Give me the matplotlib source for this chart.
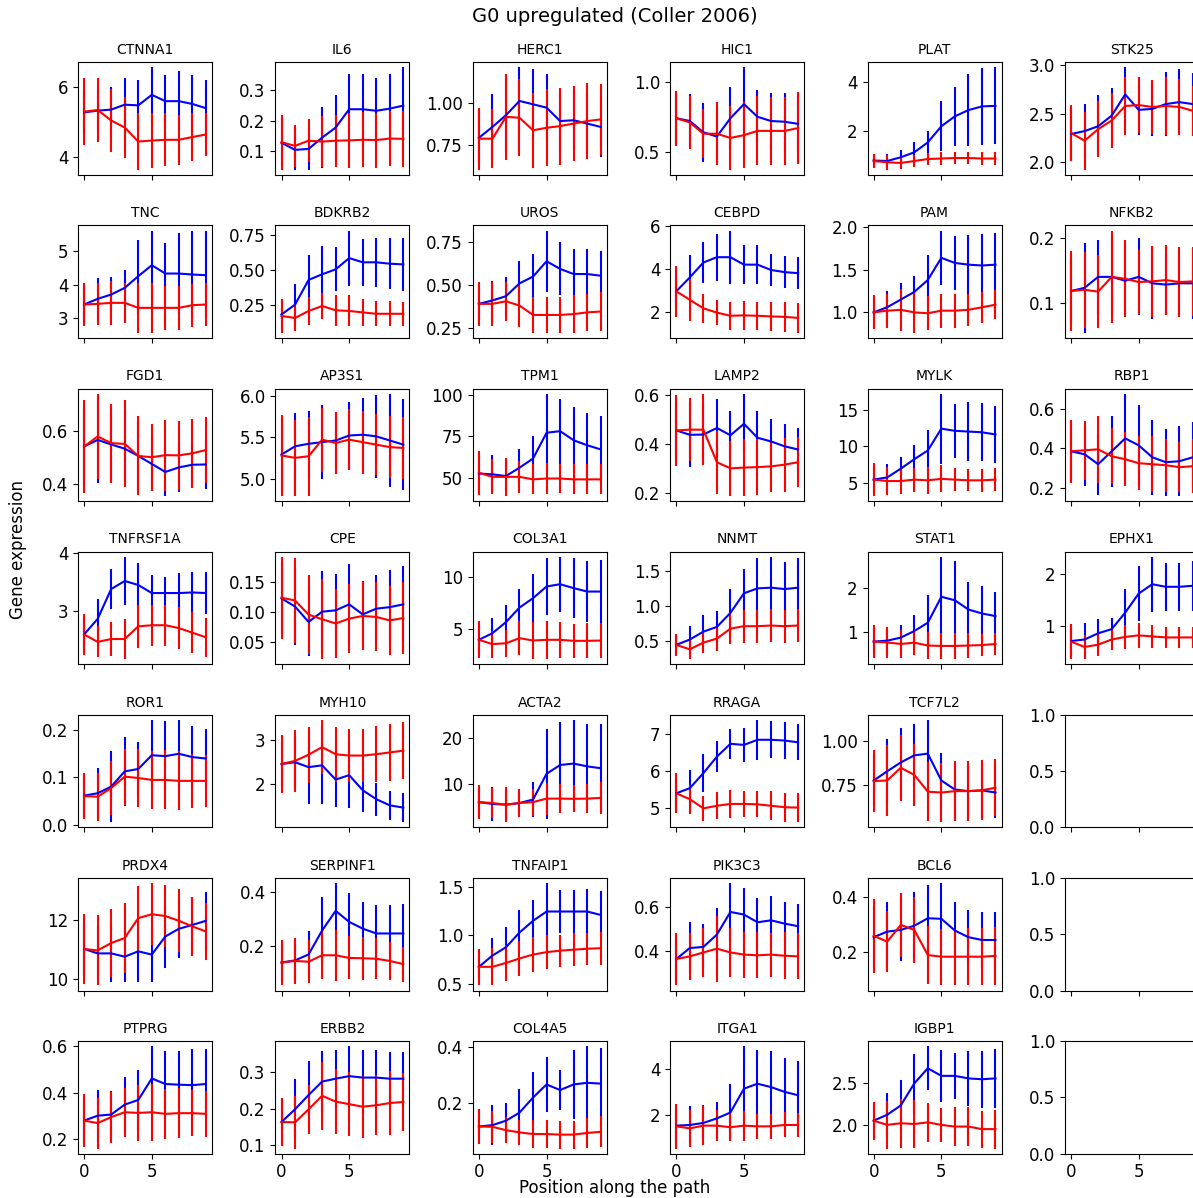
import numpy as np
import matplotlib
matplotlib.use('Agg')
import matplotlib.pyplot as plt

# Mean expression along the path (x = 0..9), blue and red groups, with std error bars
positions = list(range(10))

genes = ['CTNNA1', 'IL6', 'HERC1', 'HIC1', 'PLAT', 'STK25',
         'TNC', 'BDKRB2', 'UROS', 'CEBPD', 'PAM', 'NFKB2',
         'FGD1', 'AP3S1', 'TPM1', 'LAMP2', 'MYLK', 'RBP1',
         'TNFRSF1A', 'CPE', 'COL3A1', 'NNMT', 'STAT1', 'EPHX1',
         'ROR1', 'MYH10', 'ACTA2', 'RRAGA', 'TCF7L2',
         'PRDX4', 'SERPINF1', 'TNFAIP1', 'PIK3C3', 'BCL6',
         'PTPRG', 'ERBB2', 'COL4A5', 'ITGA1', 'IGBP1']

blue_mean = [
    [5.28, 5.33, 5.36, 5.5, 5.48, 5.78, 5.6, 5.6, 5.52, 5.4],
    [0.128, 0.105, 0.108, 0.145, 0.178, 0.238, 0.238, 0.233, 0.24, 0.25],
    [0.79, 0.855, 0.925, 1.01, 0.99, 0.97, 0.89, 0.895, 0.875, 0.855],
    [0.74, 0.72, 0.64, 0.61, 0.74, 0.84, 0.75, 0.72, 0.715, 0.7],
    [0.82, 0.8, 0.95, 1.15, 1.55, 2.2, 2.6, 2.85, 3.0, 3.02],
    [2.29, 2.32, 2.37, 2.48, 2.7, 2.54, 2.55, 2.6, 2.62, 2.6],
    [3.4, 3.57, 3.7, 3.9, 4.25, 4.58, 4.33, 4.33, 4.3, 4.28],
    [0.185, 0.255, 0.43, 0.47, 0.505, 0.585, 0.555, 0.555, 0.545, 0.54],
    [0.39, 0.41, 0.435, 0.51, 0.55, 0.64, 0.595, 0.565, 0.565, 0.555],
    [2.95, 3.6, 4.3, 4.55, 4.55, 4.2, 4.2, 3.95, 3.85, 3.8],
    [1.0, 1.06, 1.15, 1.24, 1.38, 1.64, 1.58, 1.56, 1.55, 1.56],
    [0.118, 0.123, 0.14, 0.14, 0.134, 0.14, 0.13, 0.128, 0.13, 0.13],
    [0.54, 0.565, 0.548, 0.532, 0.505, 0.475, 0.445, 0.462, 0.472, 0.473],
    [5.29, 5.39, 5.42, 5.44, 5.46, 5.52, 5.53, 5.51, 5.46, 5.41],
    [52.5, 52, 51, 56, 61.5, 77, 78, 72.5, 69.5, 67],
    [0.455, 0.437, 0.438, 0.465, 0.435, 0.482, 0.425, 0.41, 0.39, 0.377],
    [5.4, 5.7, 6.9, 8.2, 9.4, 12.4, 12.1, 12.0, 11.9, 11.6],
    [0.385, 0.37, 0.32, 0.385, 0.45, 0.415, 0.355, 0.33, 0.335, 0.355],
    [2.59, 2.86, 3.38, 3.52, 3.45, 3.31, 3.31, 3.31, 3.32, 3.31],
    [0.1225, 0.109, 0.0835, 0.1005, 0.1027, 0.1126, 0.096, 0.1055, 0.108, 0.1126],
    [3.94, 4.58, 5.65, 7.06, 7.97, 9.1, 9.32, 8.94, 8.61, 8.61],
    [0.443, 0.52, 0.632, 0.7, 0.9, 1.18, 1.25, 1.26, 1.24, 1.26],
    [0.79, 0.81, 0.88, 1.03, 1.22, 1.81, 1.73, 1.52, 1.43, 1.37],
    [0.7, 0.73, 0.85, 0.93, 1.25, 1.62, 1.8, 1.75, 1.75, 1.77],
    [0.061, 0.066, 0.08, 0.112, 0.117, 0.146, 0.144, 0.149, 0.142, 0.139],
    [2.46, 2.5, 2.39, 2.43, 2.11, 2.21, 1.87, 1.67, 1.53, 1.48],
    [6.2, 5.8, 5.65, 6.0, 6.75, 12.3, 14.2, 14.5, 13.9, 13.5],
    [5.39, 5.53, 5.94, 6.39, 6.74, 6.71, 6.85, 6.85, 6.83, 6.78],
    [0.778, 0.83, 0.88, 0.92, 0.93, 0.778, 0.727, 0.718, 0.722, 0.71],
    [11.02, 10.87, 10.87, 10.76, 10.94, 10.83, 11.44, 11.7, 11.83, 11.97],
    [0.139, 0.147, 0.169, 0.258, 0.331, 0.29, 0.265, 0.247, 0.247, 0.247],
    [0.68, 0.795, 0.88, 1.03, 1.15, 1.245, 1.245, 1.245, 1.245, 1.21],
    [0.365, 0.415, 0.42, 0.476, 0.579, 0.567, 0.532, 0.541, 0.526, 0.514],
    [0.254, 0.274, 0.28, 0.295, 0.322, 0.32, 0.278, 0.254, 0.244, 0.244],
    [0.279, 0.3, 0.305, 0.348, 0.368, 0.461, 0.437, 0.434, 0.432, 0.437],
    [0.163, 0.198, 0.237, 0.274, 0.282, 0.289, 0.285, 0.285, 0.282, 0.282],
    [0.114, 0.119, 0.135, 0.164, 0.218, 0.265, 0.245, 0.265, 0.271, 0.268],
    [1.52, 1.55, 1.64, 1.84, 2.1, 3.15, 3.37, 3.22, 3.01, 2.86],
    [2.05, 2.12, 2.23, 2.49, 2.67, 2.58, 2.58, 2.55, 2.54, 2.55],
]

blue_err = [
    [0.6, 0.6, 0.65, 0.75, 0.72, 0.78, 0.75, 0.85, 0.83, 0.8],
    [0.08, 0.065, 0.068, 0.1, 0.107, 0.117, 0.117, 0.107, 0.115, 0.125],
    [0.17, 0.195, 0.22, 0.2, 0.21, 0.2, 0.18, 0.18, 0.18, 0.18],
    [0.18, 0.19, 0.21, 0.2, 0.22, 0.26, 0.19, 0.2, 0.205, 0.2],
    [0.25, 0.3, 0.3, 0.4, 0.45, 1.0, 1.2, 1.45, 1.55, 1.55],
    [0.28, 0.28, 0.32, 0.29, 0.28, 0.26, 0.28, 0.33, 0.34, 0.32],
    [0.5, 0.63, 0.52, 0.55, 1.1, 1.04, 0.92, 1.22, 1.3, 1.32],
    [0.1, 0.145, 0.18, 0.2, 0.155, 0.195, 0.165, 0.175, 0.18, 0.185],
    [0.1, 0.115, 0.115, 0.13, 0.13, 0.18, 0.155, 0.145, 0.145, 0.145],
    [0.8, 1.05, 0.95, 1.1, 1.25, 0.9, 0.9, 0.75, 0.75, 0.75],
    [0.18, 0.19, 0.19, 0.19, 0.29, 0.32, 0.32, 0.35, 0.37, 0.37],
    [0.05, 0.07, 0.058, 0.06, 0.055, 0.06, 0.055, 0.048, 0.05, 0.055],
    [0.15, 0.16, 0.14, 0.14, 0.13, 0.1, 0.09, 0.092, 0.085, 0.093],
    [0.45, 0.4, 0.4, 0.445, 0.35, 0.4, 0.44, 0.505, 0.565, 0.545],
    [10, 11.5, 9, 11, 13.5, 23.5, 19.5, 20, 19.5, 20],
    [0.12, 0.132, 0.12, 0.12, 0.1, 0.123, 0.11, 0.09, 0.09, 0.088],
    [1.8, 1.9, 1.6, 2.0, 2.8, 4.8, 3.7, 4.0, 4.0, 3.9],
    [0.15, 0.16, 0.155, 0.18, 0.225, 0.205, 0.19, 0.168, 0.175, 0.18],
    [0.3, 0.35, 0.34, 0.42, 0.39, 0.31, 0.28, 0.35, 0.36, 0.36],
    [0.06, 0.063, 0.057, 0.068, 0.06, 0.067, 0.055, 0.056, 0.061, 0.063],
    [1.4, 1.45, 1.67, 1.78, 2.35, 2.8, 2.65, 2.9, 2.95, 3.05],
    [0.15, 0.19, 0.24, 0.23, 0.34, 0.34, 0.43, 0.44, 0.39, 0.42],
    [0.3, 0.3, 0.29, 0.36, 0.64, 0.91, 0.89, 0.63, 0.62, 0.55],
    [0.3, 0.31, 0.27, 0.22, 0.45, 0.53, 0.53, 0.46, 0.46, 0.48],
    [0.045, 0.054, 0.075, 0.073, 0.056, 0.074, 0.073, 0.07, 0.065, 0.063],
    [0.5, 0.6, 0.83, 0.86, 0.61, 0.73, 0.5, 0.37, 0.33, 0.33],
    [3.0, 3.6, 3.0, 3.0, 3.75, 9.75, 9.2, 9.4, 9.1, 9.5],
    [0.4, 0.5, 0.52, 0.43, 0.41, 0.47, 0.54, 0.5, 0.5, 0.49],
    [0.15, 0.18, 0.195, 0.18, 0.19, 0.155, 0.15, 0.15, 0.156, 0.145],
    [0.9, 0.9, 0.96, 0.85, 1.03, 0.92, 1.05, 0.98, 0.95, 0.97],
    [0.07, 0.075, 0.089, 0.126, 0.103, 0.109, 0.1, 0.104, 0.106, 0.11],
    [0.15, 0.18, 0.21, 0.23, 0.21, 0.29, 0.22, 0.22, 0.235, 0.24],
    [0.1, 0.12, 0.105, 0.12, 0.131, 0.121, 0.11, 0.11, 0.1, 0.1],
    [0.11, 0.108, 0.11, 0.12, 0.12, 0.128, 0.104, 0.096, 0.099, 0.099],
    [0.1, 0.11, 0.1, 0.118, 0.131, 0.139, 0.144, 0.147, 0.156, 0.153],
    [0.06, 0.084, 0.093, 0.083, 0.08, 0.082, 0.077, 0.077, 0.074, 0.074],
    [0.06, 0.072, 0.065, 0.083, 0.092, 0.1, 0.071, 0.125, 0.131, 0.128],
    [0.8, 0.84, 0.8, 0.73, 1.24, 1.87, 1.5, 1.58, 1.5, 1.53],
    [0.2, 0.26, 0.3, 0.35, 0.26, 0.31, 0.27, 0.33, 0.34, 0.35],
]

red_mean = [
    [5.3, 5.35, 5.05, 4.85, 4.45, 4.48, 4.5, 4.5, 4.58, 4.65],
    [0.13, 0.118, 0.135, 0.132, 0.135, 0.136, 0.138, 0.137, 0.142, 0.141],
    [0.785, 0.785, 0.915, 0.91, 0.835, 0.85, 0.86, 0.875, 0.89, 0.9],
    [0.74, 0.71, 0.63, 0.63, 0.6, 0.62, 0.65, 0.65, 0.65, 0.67],
    [0.8, 0.75, 0.72, 0.8, 0.88, 0.9, 0.92, 0.92, 0.9, 0.9],
    [2.3, 2.22, 2.34, 2.43, 2.58, 2.59, 2.57, 2.58, 2.57, 2.53],
    [3.4, 3.42, 3.45, 3.45, 3.3, 3.3, 3.3, 3.3, 3.38, 3.4],
    [0.175, 0.16, 0.21, 0.245, 0.215, 0.21, 0.2, 0.19, 0.19, 0.19],
    [0.39, 0.39, 0.405, 0.38, 0.325, 0.325, 0.325, 0.33, 0.34, 0.345],
    [2.95, 2.55, 2.15, 1.95, 1.8, 1.82, 1.8, 1.77, 1.75, 1.7],
    [1.0, 1.02, 1.03, 1.0, 0.99, 1.02, 1.02, 1.03, 1.06, 1.09],
    [0.118, 0.12, 0.117, 0.14, 0.137, 0.132, 0.133, 0.135, 0.132, 0.133],
    [0.54, 0.578, 0.553, 0.55, 0.505, 0.5, 0.508, 0.507, 0.515, 0.527],
    [5.28, 5.25, 5.27, 5.47, 5.43, 5.47, 5.44, 5.41, 5.38, 5.37],
    [53, 50.5, 50.5, 50.5, 49, 49.5, 49.5, 49, 49, 49],
    [0.455, 0.458, 0.458, 0.325, 0.3, 0.303, 0.305, 0.308, 0.315, 0.325],
    [5.4, 5.2, 5.2, 5.4, 5.3, 5.5, 5.4, 5.3, 5.3, 5.4],
    [0.385, 0.39, 0.395, 0.36, 0.345, 0.325, 0.32, 0.315, 0.305, 0.31],
    [2.59, 2.46, 2.51, 2.51, 2.73, 2.75, 2.75, 2.7, 2.62, 2.54],
    [0.1236, 0.119, 0.0956, 0.088, 0.081, 0.089, 0.0934, 0.0918, 0.086, 0.09],
    [3.94, 3.52, 3.61, 4.1, 3.87, 3.94, 3.94, 3.84, 3.84, 3.87],
    [0.443, 0.38, 0.476, 0.533, 0.675, 0.71, 0.71, 0.72, 0.71, 0.72],
    [0.79, 0.77, 0.735, 0.765, 0.7, 0.69, 0.69, 0.7, 0.71, 0.735],
    [0.69, 0.585, 0.63, 0.73, 0.78, 0.81, 0.79, 0.77, 0.77, 0.77],
    [0.06, 0.0587, 0.077, 0.101, 0.098, 0.094, 0.094, 0.092, 0.092, 0.092],
    [2.46, 2.53, 2.67, 2.84, 2.68, 2.65, 2.65, 2.68, 2.72, 2.76],
    [6.2, 6.0, 5.65, 6.0, 6.2, 6.95, 6.95, 6.9, 6.95, 7.1],
    [5.39, 5.23, 4.98, 5.05, 5.1, 5.1, 5.09, 5.05, 5.01, 5.0],
    [0.775, 0.778, 0.85, 0.81, 0.715, 0.71, 0.718, 0.718, 0.723, 0.737],
    [11.02, 10.97, 11.22, 11.39, 12.06, 12.19, 12.13, 11.97, 11.78, 11.61],
    [0.139, 0.145, 0.142, 0.166, 0.166, 0.156, 0.155, 0.153, 0.145, 0.133],
    [0.68, 0.68, 0.72, 0.765, 0.805, 0.83, 0.845, 0.855, 0.865, 0.87],
    [0.365, 0.377, 0.395, 0.412, 0.395, 0.385, 0.382, 0.385, 0.38, 0.377],
    [0.259, 0.238, 0.298, 0.28, 0.19, 0.184, 0.184, 0.184, 0.184, 0.187],
    [0.279, 0.268, 0.294, 0.315, 0.312, 0.315, 0.308, 0.311, 0.311, 0.308],
    [0.163, 0.162, 0.198, 0.235, 0.219, 0.212, 0.205, 0.209, 0.215, 0.218],
    [0.114, 0.113, 0.101, 0.093, 0.087, 0.087, 0.085, 0.085, 0.091, 0.095],
    [1.49, 1.4, 1.52, 1.52, 1.45, 1.52, 1.49, 1.49, 1.55, 1.55],
    [2.05, 2.0, 2.02, 2.01, 2.03, 2.0, 1.98, 1.98, 1.95, 1.95],
]

red_err = [
    [0.95, 0.92, 0.9, 0.87, 0.8, 0.78, 0.75, 0.72, 0.67, 0.62],
    [0.09, 0.068, 0.07, 0.083, 0.085, 0.09, 0.09, 0.09, 0.09, 0.092],
    [0.185, 0.175, 0.255, 0.23, 0.225, 0.23, 0.23, 0.225, 0.225, 0.21],
    [0.195, 0.19, 0.175, 0.225, 0.225, 0.235, 0.245, 0.24, 0.24, 0.255],
    [0.3, 0.3, 0.25, 0.25, 0.25, 0.25, 0.25, 0.25, 0.25, 0.25],
    [0.29, 0.3, 0.29, 0.28, 0.3, 0.29, 0.28, 0.3, 0.29, 0.26],
    [0.64, 0.63, 0.67, 0.6, 0.75, 0.75, 0.67, 0.65, 0.65, 0.65],
    [0.12, 0.095, 0.1, 0.095, 0.11, 0.11, 0.095, 0.09, 0.09, 0.085],
    [0.128, 0.128, 0.113, 0.123, 0.105, 0.105, 0.105, 0.11, 0.11, 0.115],
    [1.2, 1.0, 0.67, 0.58, 0.65, 0.67, 0.67, 0.67, 0.7, 0.7],
    [0.2, 0.2, 0.245, 0.24, 0.2, 0.2, 0.2, 0.19, 0.18, 0.17],
    [0.062, 0.059, 0.057, 0.072, 0.06, 0.049, 0.055, 0.055, 0.054, 0.054],
    [0.173, 0.16, 0.148, 0.163, 0.148, 0.125, 0.133, 0.128, 0.13, 0.123],
    [0.49, 0.455, 0.475, 0.385, 0.375, 0.37, 0.38, 0.37, 0.375, 0.37],
    [13.2, 10.5, 11.5, 9.5, 9, 9.5, 9, 9, 9, 9],
    [0.145, 0.13, 0.145, 0.128, 0.113, 0.115, 0.113, 0.105, 0.11, 0.103],
    [2.25, 1.9, 1.75, 1.65, 1.85, 1.85, 1.55, 1.5, 1.55, 1.6],
    [0.16, 0.15, 0.17, 0.14, 0.135, 0.135, 0.14, 0.133, 0.125, 0.135],
    [0.35, 0.27, 0.3, 0.35, 0.375, 0.36, 0.36, 0.37, 0.355, 0.34],
    [0.0676, 0.07, 0.065, 0.066, 0.057, 0.057, 0.057, 0.057, 0.057, 0.06],
    [1.8, 1.32, 1.3, 1.65, 1.8, 1.85, 1.75, 1.65, 1.7, 1.68],
    [0.16, 0.14, 0.155, 0.175, 0.215, 0.235, 0.235, 0.24, 0.235, 0.235],
    [0.375, 0.36, 0.32, 0.28, 0.3, 0.3, 0.3, 0.29, 0.26, 0.24],
    [0.335, 0.235, 0.22, 0.205, 0.24, 0.235, 0.22, 0.21, 0.21, 0.21],
    [0.048, 0.05, 0.057, 0.059, 0.06, 0.061, 0.062, 0.062, 0.057, 0.055],
    [0.65, 0.69, 0.63, 0.61, 0.62, 0.6, 0.6, 0.63, 0.64, 0.64],
    [3.6, 3.25, 3.8, 3.0, 2.9, 3.45, 3.2, 2.9, 3.1, 3.4],
    [0.55, 0.4, 0.35, 0.37, 0.37, 0.35, 0.35, 0.4, 0.4, 0.4],
    [0.177, 0.2, 0.185, 0.175, 0.167, 0.168, 0.17, 0.17, 0.17, 0.16],
    [1.18, 1.18, 1.14, 1.17, 1.1, 1.05, 1.04, 1.06, 1.0, 0.97],
    [0.085, 0.084, 0.08, 0.09, 0.095, 0.08, 0.08, 0.077, 0.07, 0.065],
    [0.183, 0.19, 0.18, 0.18, 0.18, 0.17, 0.165, 0.17, 0.165, 0.17],
    [0.12, 0.108, 0.11, 0.15, 0.112, 0.105, 0.105, 0.1, 0.108, 0.105],
    [0.132, 0.11, 0.114, 0.12, 0.105, 0.1, 0.1, 0.103, 0.103, 0.105],
    [0.114, 0.11, 0.11, 0.105, 0.122, 0.124, 0.107, 0.107, 0.1, 0.1],
    [0.065, 0.072, 0.067, 0.094, 0.09, 0.088, 0.085, 0.082, 0.087, 0.08],
    [0.062, 0.058, 0.047, 0.045, 0.05, 0.05, 0.05, 0.05, 0.053, 0.056],
    [0.98, 0.8, 0.86, 0.68, 0.62, 0.66, 0.55, 0.56, 0.55, 0.54],
    [0.225, 0.28, 0.29, 0.28, 0.23, 0.2, 0.23, 0.23, 0.22, 0.23],
]

n_rows, n_cols = 7, 6

plt.rcParams['xtick.labelsize'] = 12
plt.rcParams['ytick.labelsize'] = 12

fig, axes = plt.subplots(n_rows, n_cols, sharex=True, figsize=(11.93, 11.98), dpi=100)
fig.subplots_adjust(left=0.0654, right=1.005, top=0.948, bottom=0.037,
                    wspace=0.473, hspace=0.45)

# the six columns are filled row by row, the last three cells of column 6 stay empty
empty = [(4, 5), (5, 5), (6, 5)]
k = 0
for i in range(n_rows):
    for j in range(n_cols):
        ax = axes[i, j]
        if (i, j) in empty:
            continue
        ax.errorbar(positions, blue_mean[k], yerr=blue_err[k], color='b')
        ax.errorbar(positions, red_mean[k], yerr=red_err[k], color='r')
        ax.set_title(genes[k], fontsize=10)
        k += 1

fig.suptitle('G0 upregulated (Coller 2006)', x=0.515, y=0.986, fontsize=14, va='center')
fig.text(0.515, 0.008, 'Position along the path', ha='center', va='center', fontsize=12)
fig.text(0.015, 0.541, 'Gene expression', ha='center', va='center', rotation=90, fontsize=12)

plt.savefig('out.png', dpi=100)
